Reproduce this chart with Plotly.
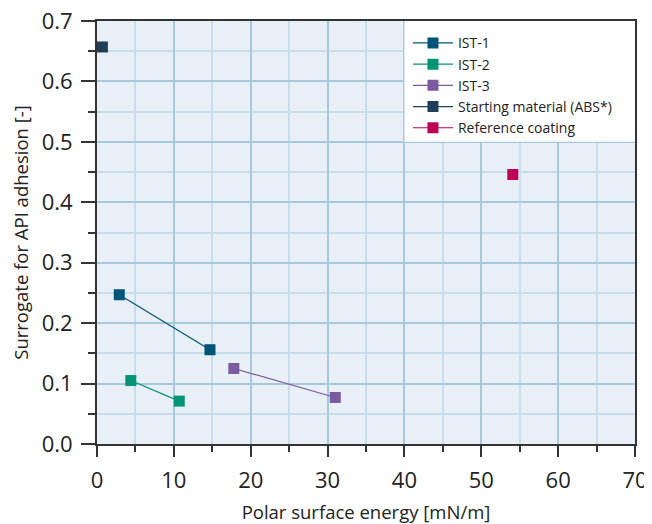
import plotly.graph_objects as go

series_names = ["IST-1", "IST-2", "IST-3", "Starting material (ABS*)", "Reference coating"]
series_x = [[2.9, 14.7], [4.4, 10.7], [17.8, 31.0], [0.7], [54.1]]
series_y = [[0.247, 0.156], [0.105, 0.071], [0.125, 0.077], [0.657], [0.446]]
series_colors = ["#005478", "#009374", "#7C5AA0", "#1F3E5A", "#BB0056"]

x_ticks = [0, 10, 20, 30, 40, 50, 60, 70]
y_ticks = [0.0, 0.1, 0.2, 0.3, 0.4, 0.5, 0.6, 0.7]

fig = go.Figure()
for name, xs, ys, c in zip(series_names, series_x, series_y, series_colors):
    fig.add_trace(go.Scatter(
        x=xs, y=ys, name=name, mode="lines+markers",
        line=dict(color=c, width=1.2),
        marker=dict(symbol="square", size=11, color=c),
    ))

# white legend panel (upper right region of the plot)
fig.add_shape(type="rect", xref="x", yref="y",
              x0=x_ticks[4], x1=x_ticks[-1], y0=y_ticks[5], y1=y_ticks[-1],
              fillcolor="white", line=dict(width=0), layer="between")

font_family = "Open Sans, DejaVu Sans, sans-serif"
fig.update_layout(
    width=644, height=516,
    margin=dict(l=89, r=17, t=13, b=80),
    paper_bgcolor="white",
    plot_bgcolor="#E8EFF6",
    font=dict(family=font_family, size=20, color="#222"),
    showlegend=True,
    legend=dict(
        x=0.578, y=0.985, xanchor="left", yanchor="top",
        bgcolor="rgba(0,0,0,0)", borderwidth=0,
        font=dict(size=14, color="#222"),
        tracegroupgap=0, itemwidth=40,
    ),
    xaxis=dict(
        range=[0, 70], tickvals=x_ticks, ticktext=[str(v) for v in x_ticks],
        automargin=False, ticklabeloverflow="allow",
        tickfont=dict(size=22), ticklabelstandoff=5,
        showline=True, linecolor="#333", linewidth=2, mirror=True,
        ticks="outside", ticklen=11, tickwidth=1.5, tickcolor="#333",
        showgrid=True, gridcolor="#A6C9DD", gridwidth=2,
        zeroline=False,
        minor=dict(dtick=5, tick0=0, ticks="outside", ticklen=6, tickwidth=1.5, tickcolor="#333",
                   showgrid=True, gridcolor="#C8DDEA", gridwidth=1.5),
        title=dict(text="Polar surface energy [mN/m]", standoff=17, font=dict(size=18.5)),
    ),
    yaxis=dict(
        range=[0, 0.7], tickvals=y_ticks, ticktext=[f"{v:.1f}" for v in y_ticks],
        automargin=False, ticklabeloverflow="allow",
        tickfont=dict(size=22), ticklabelstandoff=4,
        showline=True, linecolor="#333", linewidth=2, mirror=True,
        ticks="outside", ticklen=14, tickwidth=1.5, tickcolor="#333",
        showgrid=True, gridcolor="#A6C9DD", gridwidth=2,
        zeroline=False,
        minor=dict(dtick=0.05, tick0=0, ticks="outside", ticklen=7, tickwidth=1.5, tickcolor="#333",
                   showgrid=True, gridcolor="#C8DDEA", gridwidth=1.5),
        title=dict(text="Surrogate for API adhesion [-]", standoff=15, font=dict(size=18.5)),
    ),
)

fig.write_html("out.html")
